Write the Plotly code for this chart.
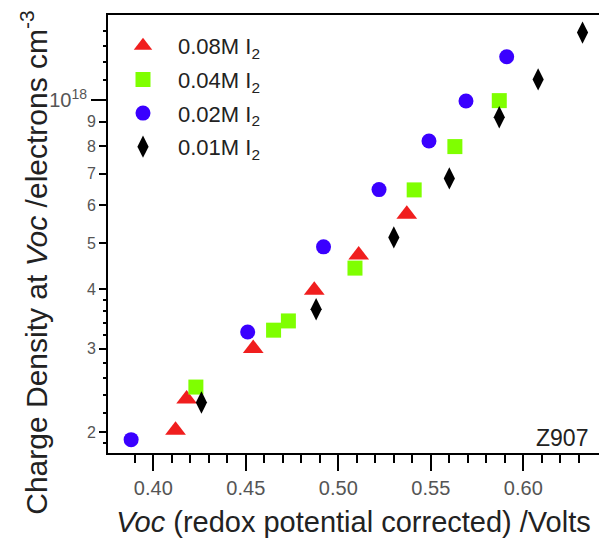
import plotly.graph_objects as go

# Open-circuit voltage (V) and charge density (electrons cm^-3) for each iodine concentration
voc_008 = [0.412, 0.418, 0.454, 0.487, 0.511, 0.537]
n_008 = [2.02e17, 2.35e17, 3.0e17, 3.98e17, 4.72e17, 5.75e17]

voc_004 = [0.423, 0.465, 0.473, 0.509, 0.541, 0.563, 0.587]
n_004 = [2.49e17, 3.28e17, 3.43e17, 4.43e17, 6.47e17, 7.98e17, 9.97e17]

voc_002 = [0.388, 0.451, 0.492, 0.522, 0.549, 0.569, 0.591]
n_002 = [1.93e17, 3.25e17, 4.91e17, 6.48e17, 8.2e17, 9.95e17, 1.233e18]

voc_001 = [0.426, 0.488, 0.530, 0.560, 0.587, 0.608, 0.632]
n_001 = [2.31e17, 3.63e17, 5.14e17, 6.84e17, 9.2e17, 1.105e18, 1.386e18]

series_names = ["0.08M I<sub>2</sub>", "0.04M I<sub>2</sub>", "0.02M I<sub>2</sub>", "0.01M I<sub>2</sub>"]

# Axis ticks
x_major = [0.40, 0.45, 0.50, 0.55, 0.60]
x_major_text = ["0.40", "0.45", "0.50", "0.55", "0.60"]
x_minor = [0.39, 0.41, 0.42, 0.43, 0.44, 0.46, 0.47, 0.48, 0.49, 0.51, 0.52,
           0.53, 0.54, 0.56, 0.57, 0.58, 0.59, 0.61, 0.62, 0.63]
y_major = [2e17, 3e17, 4e17, 5e17, 6e17, 7e17, 8e17, 9e17]
y_major_text = ["2", "3", "4", "5", "6", "7", "8", "9"]
y_minor = [1.9e17, 2.2e17, 2.4e17, 2.6e17, 2.8e17, 3.2e17, 3.4e17, 3.6e17,
           3.8e17, 1.1e18, 1.2e18, 1.3e18, 1.4e18]
y_decade = [1e18]
y_decade_text = ["10<sup>18</sup>"]

FONT = "Liberation Sans, Arial, sans-serif"
X_RANGE = [0.3755, 0.6409]
Y_RANGE = [17.2575, 18.1788]  # log10 units

fig = go.Figure()

styles = [
    dict(symbol="triangle-up", color="#f01e1e", size=18),
    dict(symbol="square", color="#7fff00", size=15),
    dict(symbol="circle", color="#3a00ff", size=15),
    dict(symbol="diamond-tall", color="#000000", size=16),
]
data = [(voc_008, n_008), (voc_004, n_004), (voc_002, n_002), (voc_001, n_001)]

for i, ((xs, ys), name, st) in enumerate(zip(data, series_names, styles)):
    fig.add_trace(go.Scatter(
        x=xs, y=ys, mode="markers", name=name, legendgroup=f"g{i}",
        marker=dict(symbol=st["symbol"], color=st["color"], size=st["size"],
                    line=dict(width=0)),
    ))

# carrier traces for the overlaid axes that hold extra tick sets
for xa, ya in (("x", "y2"), ("x2", "y"), ("x", "y3")):
    fig.add_trace(go.Scatter(x=[None], y=[None], xaxis=xa, yaxis=ya,
                             showlegend=False, hoverinfo="skip"))

tick_common = dict(showgrid=False, zeroline=False, ticks="outside",
                   tickwidth=2, tickcolor="black", tickmode="array")

fig.update_layout(
    width=599, height=538,
    margin=dict(l=108, r=0, t=15, b=85),
    plot_bgcolor="white", paper_bgcolor="white",
    font=dict(family=FONT, color="#222222"),
    showlegend=True,
    legend=dict(
        x=0.0, y=0.977, xanchor="left", yanchor="top",
        font=dict(size=22, color="#222222", family=FONT),
        itemwidth=60, tracegroupgap=2,
        bgcolor="rgba(0,0,0,0)",
    ),
    xaxis=dict(
        range=X_RANGE, **tick_common,
        showline=True, linecolor="black", linewidth=2, mirror=True,
        ticklen=16, tickvals=x_major, ticktext=x_major_text,
        tickfont=dict(size=20, color="#555555", family=FONT),
        title=dict(text="<i>Voc</i> (redox potential corrected) /Volts",
                   font=dict(size=29, color="#222222", family=FONT),
                   standoff=14),
    ),
    xaxis2=dict(
        range=X_RANGE, overlaying="x", anchor="y", side="bottom",
        **tick_common, showline=False, ticklen=9, tickvals=x_minor,
        showticklabels=False,
    ),
    yaxis=dict(
        type="log", range=Y_RANGE, **tick_common,
        showline=True, linecolor="black", linewidth=2, mirror=False,
        ticklen=7, tickvals=y_major, ticktext=y_major_text,
        tickfont=dict(size=16, color="#555555", family=FONT),
    ),
    yaxis2=dict(
        type="log", range=Y_RANGE, overlaying="y", anchor="x", side="left",
        **tick_common, showline=False, ticklen=16,
        tickvals=y_decade, ticktext=y_decade_text,
        tickfont=dict(size=20, color="#555555", family=FONT),
    ),
    yaxis3=dict(
        type="log", range=Y_RANGE, overlaying="y", anchor="x", side="left",
        **tick_common, showline=False, ticklen=4, tickvals=y_minor,
        showticklabels=False,
    ),
    annotations=[
        dict(text="Charge Density at <i>Voc</i> /electrons cm<sup>-3</sup>",
             xref="paper", yref="paper", x=-0.151, y=0.434,
             xanchor="center", yanchor="middle", textangle=-90,
             showarrow=False, font=dict(size=30, color="#222222", family=FONT)),
        dict(text="Z907", xref="paper", yref="paper", x=0.9817, y=0.034,
             xanchor="right", yanchor="middle", showarrow=False,
             font=dict(size=23, color="#222222", family=FONT)),
    ],
)

fig.write_html("out.html")
